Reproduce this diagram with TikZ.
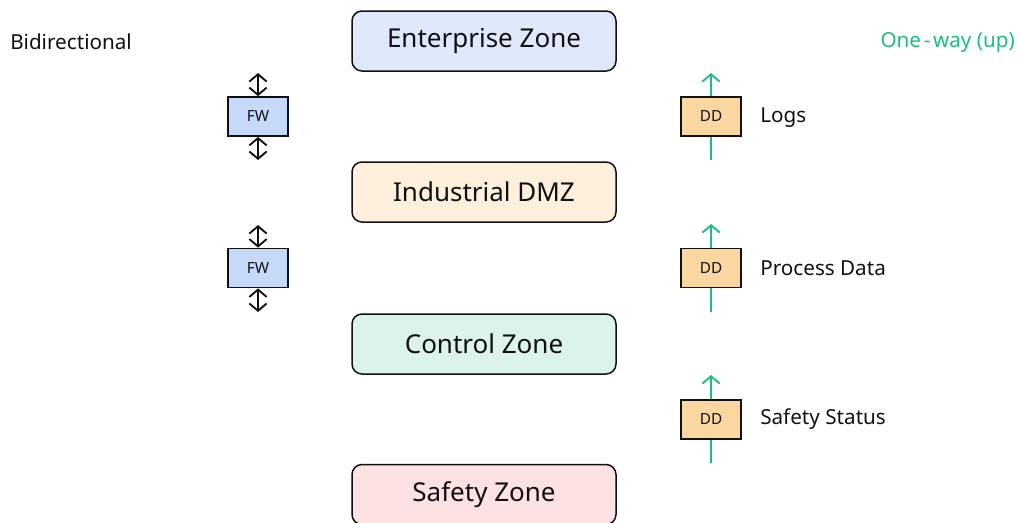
\documentclass[tikz,border=0pt]{standalone}
\usepackage{fontspec}
\setmainfont{Noto Sans}
\usetikzlibrary{arrows.meta}
\definecolor{entfill}{HTML}{E0E8FB}
\definecolor{dmzfill}{HTML}{FEF0DC}
\definecolor{ctlfill}{HTML}{DCF3EA}
\definecolor{saffill}{HTML}{FDE2E4}
\definecolor{fwfill}{HTML}{C7D9F8}
\definecolor{ddfill}{HTML}{FAD7A0}
\definecolor{owgreen}{HTML}{1BBE80}
\definecolor{ink}{HTML}{111111}
\tikzset{
  zone/.style={draw=ink, line width=1.125pt, rounded corners=7.5pt, minimum width=198pt, minimum height=45pt, inner sep=0pt, font=\fontsize{19.5pt}{22pt}\selectfont, text=ink},
  fwbox/.style={draw=ink, line width=1.3pt, fill=fwfill, minimum width=45pt, minimum height=29.25pt, inner sep=0pt, font=\fontsize{11.5pt}{13pt}\selectfont, text=ink},
  ddbox/.style={draw=ink, line width=1.3pt, fill=ddfill, minimum width=45pt, minimum height=29.25pt, inner sep=0pt, font=\fontsize{11.5pt}{13pt}\selectfont, text=ink},
  bi/.style={draw=ink, line width=1.4pt, {Straight Barb[length=5.5pt,width=13pt,line width=1.4pt]}-{Straight Barb[length=5.5pt,width=13pt,line width=1.4pt]}},
  oneway/.style={draw=owgreen, line width=1.4pt, -{Straight Barb[length=5.5pt,width=13pt,line width=1.4pt]}},
  lbl/.style={anchor=west, inner sep=0pt, text depth=0pt, font=\fontsize{15.5pt}{18pt}\selectfont, text=ink}
}
\begin{document}
\begin{tikzpicture}[x=0.75pt,y=-0.75pt]
\useasboundingbox (0,0) rectangle (1019,522);
\begin{scope}
\clip (0,0) rectangle (1019,522);
\node[zone, fill=entfill] (ent) at (484,41) {Enterprise Zone};
\node[zone, fill=dmzfill] (dmz) at (484,192) {Industrial DMZ};
\node[zone, fill=ctlfill] (ctl) at (484,344) {Control Zone};
\node[zone, fill=saffill] (saf) at (484,494.5) {Safety Zone};
\end{scope}

\node[lbl] (bidir) at (10,42) {Bidirectional};
\node[lbl, anchor=east, text=owgreen] (oneway) at (1015,40) {One\kern2pt-\kern2pt way (up)};

% firewalls
\node[fwbox] (fw1) at (258,116.5) {FW};
\node[fwbox] (fw2) at (258,268) {FW};
\coordinate (fw1t) at (258,73);
\coordinate (fw1b) at (258,160);
\coordinate (fw2t) at (258,225);
\coordinate (fw2b) at (258,312);
\draw[bi] (fw1t) -- (fw1.north);
\draw[bi] (fw1.south) -- (fw1b);
\draw[bi] (fw2t) -- (fw2.north);
\draw[bi] (fw2.south) -- (fw2b);

% data diodes
\coordinate (dd1b) at (711,160);
\coordinate (dd1t) at (711,73);
\coordinate (dd2b) at (711,312);
\coordinate (dd2t) at (711,224);
\coordinate (dd3b) at (711,463);
\coordinate (dd3t) at (711,375);
\node[ddbox] (dd1) at (711,116.5) {DD};
\node[ddbox] (dd2) at (711,268) {DD};
\node[ddbox] (dd3) at (711,419.5) {DD};
\draw[owgreen, line width=1.4pt] (dd1b) -- (dd1.south);
\draw[owgreen, line width=1.4pt] (dd2b) -- (dd2.south);
\draw[owgreen, line width=1.4pt] (dd3b) -- (dd3.south);
\draw[oneway] (dd1.north) -- (dd1t);
\draw[oneway] (dd2.north) -- (dd2t);
\draw[oneway] (dd3.north) -- (dd3t);

\node[lbl] (l1) at (760,115) {Logs};
\node[lbl] (l2) at (760,268) {Process Data};
\node[lbl] (l3) at (760,417) {Safety Status};
\end{tikzpicture}
\end{document}
